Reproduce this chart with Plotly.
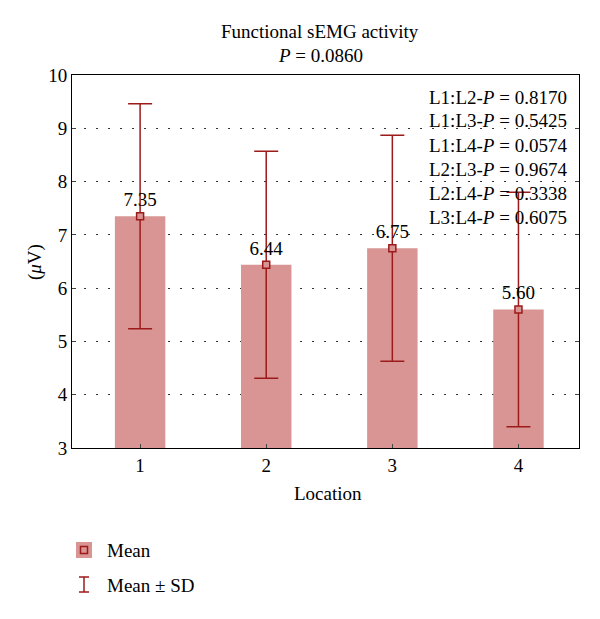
import plotly.graph_objects as go

# values
locations = [1, 2, 3, 4]
means = [7.35, 6.44, 6.75, 5.60]
sds = [2.11, 2.13, 2.12, 2.20]
pair_labels = ["L1:L2", "L1:L3", "L1:L4", "L2:L3", "L2:L4", "L3:L4"]
pair_pvalues = ["0.8170", "0.5425", "0.0574", "0.9674", "0.3338", "0.6075"]
overall_p = "0.0860"

BAR = "#d99594"
DARK = "#9c1a1a"
FONT = "Liberation Serif"
FS = 19

# page body has an 8px margin, so the figure is drawn 8px in and down
OFF = 8
W, H = 600 - OFF, 619 - OFF
L, R, T, B = 72 - OFF, 21, 75 - OFF, 171
pw, ph = W - L - R, H - T - B


def px(x):
    return (x - OFF - L) / pw


def py(y):
    return (H - B - (y - OFF)) / ph


def label(x, y, text, anchor="center", angle=0, size=FS):
    return dict(x=px(x), y=py(y), xref="paper", yref="paper", showarrow=False,
                xanchor=anchor, yanchor="middle", textangle=angle, text=text,
                font=dict(family=FONT, size=size, color="black"))


fig = go.Figure()

fig.add_trace(go.Bar(
    x=locations, y=[m - 3 for m in means], base=3,
    width=0.40, marker_color=BAR, marker_line_width=0,
    showlegend=False, hoverinfo="skip"
))

fig.add_trace(go.Scatter(
    x=locations, y=means, mode="markers+text",
    text=[f"{m:.2f}" for m in means], textposition="top center",
    textfont=dict(family=FONT, size=FS, color="black"),
    marker=dict(symbol="square", size=7, color=BAR, line=dict(color=DARK, width=1.5)),
    error_y=dict(type="data", array=sds, visible=True, color=DARK, thickness=1.5, width=12),
    showlegend=False
))

ann = [
    label(320, 32, "Functional sEMG activity"),
    label(320, 56, f"<i>P</i> = {overall_p}"),
    label(35, 262, "(<i>μ</i>V)", angle=-90),
    label(328, 493, "Location"),
    label(105, 550, "Mean", anchor="left"),
    label(105, 585, "Mean ± SD", anchor="left"),
]
for i, (lab, p) in enumerate(zip(pair_labels, pair_pvalues)):
    ann.append(label(427, 97 + 24 * i, f"{lab}-<i>P</i> = {p}", anchor="left"))

shapes = [
    dict(type="rect", xref="paper", yref="paper", x0=px(76), x1=px(92), y0=py(542), y1=py(558),
         fillcolor=BAR, line=dict(width=0)),
    dict(type="rect", xref="paper", yref="paper", x0=px(80.5), x1=px(87.5), y0=py(546.5), y1=py(553.5),
         fillcolor=BAR, line=dict(color=DARK, width=1.5)),
    dict(type="line", xref="paper", yref="paper", x0=px(84), x1=px(84), y0=py(577), y1=py(592),
         line=dict(color=DARK, width=1.5)),
    dict(type="line", xref="paper", yref="paper", x0=px(79), x1=px(89), y0=py(577), y1=py(577),
         line=dict(color=DARK, width=1.5)),
    dict(type="line", xref="paper", yref="paper", x0=px(79), x1=px(89), y0=py(592), y1=py(592),
         line=dict(color=DARK, width=1.5)),
]

fig.update_layout(
    width=W, height=H,
    margin=dict(l=L, r=R, t=T, b=B, autoexpand=False),
    paper_bgcolor="white", plot_bgcolor="white",
    font=dict(family=FONT, size=FS, color="black"),
    annotations=ann, shapes=shapes,
    showlegend=False,
)

fig.update_xaxes(
    range=[0.46, 4.48], tickvals=locations, ticks="inside", ticklen=4,
    showline=True, linecolor="black", linewidth=1, mirror=True,
    showgrid=False, zeroline=False, automargin=False,
)
fig.update_yaxes(
    range=[3, 10], dtick=1, ticks="inside", ticklen=4,
    showline=True, linecolor="black", linewidth=1, mirror="ticks",
    showgrid=True, gridcolor="#333333", griddash="2px,10px", gridwidth=1,
    zeroline=False, automargin=False,
)

fig.write_html("out.html")
